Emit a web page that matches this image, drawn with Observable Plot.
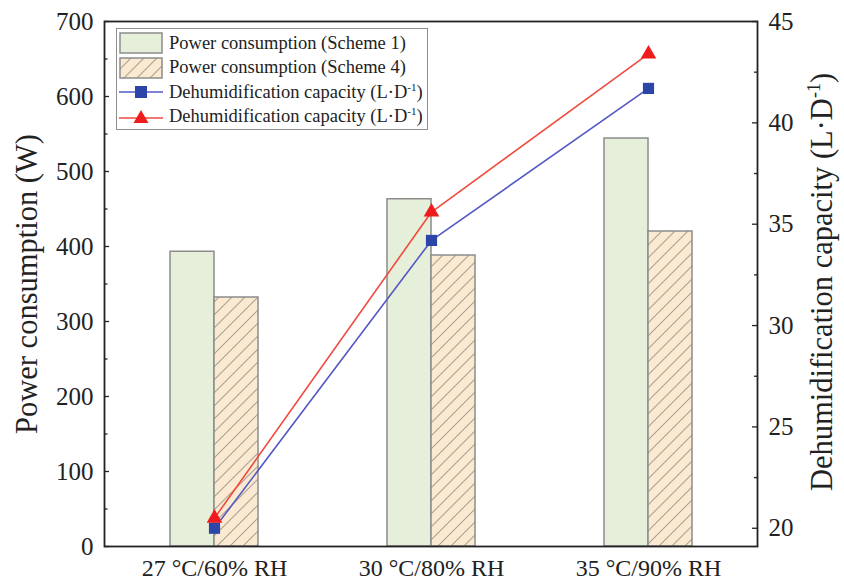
<!DOCTYPE html>
<html><head><meta charset="utf-8">
<script src="https://cdn.jsdelivr.net/npm/d3@7"></script>
<script src="https://cdn.jsdelivr.net/npm/@observablehq/plot@0.6"></script>
<style>
body{margin:0;background:#fff;}
#wrap{position:relative;width:844px;height:585px;font-family:"Liberation Serif","Times New Roman",serif;}
#wrap svg{display:block;}
.legend{position:absolute;left:116px;top:28px;width:312px;height:102px;border:1.5px solid #8f8f8f;box-sizing:border-box;background:#fff;padding-top:2px;}
.row{display:flex;align-items:center;height:24.5px;font-size:18.5px;color:#222;white-space:nowrap;}
.row svg{margin-left:2px;margin-right:6px;flex:none;}
sup{font-size:11px;vertical-align:7px;line-height:0;}
</style></head><body><div id="wrap"></div>
<script>
const categories = ["27 °C/60% RH", "30 °C/80% RH", "35 °C/90% RH"];
const powerScheme1 = [393, 463, 544];
const powerScheme4 = [332, 388, 420];
const dehumScheme1 = [20.0, 34.2, 41.7];
const dehumScheme4 = [20.5, 35.6, 43.4];
const leftDomain = [0, 700];
const leftTicks = [0, 100, 200, 300, 400, 500, 600, 700];
const leftMinor = [50, 150, 250, 350, 450, 550, 650];
const rightDomain = [19.1, 45];
const rightTicks = [20, 25, 30, 35, 40, 45];
const rightMinor = [22.5, 27.5, 32.5, 37.5, 42.5];
const leftTitle = "Power consumption (W)";
const rightTitle = "Dehumidification capacity (L·D⁻¹)";
const legendLabels = ["Power consumption (Scheme 1)", "Power consumption (Scheme 4)", "Dehumidification capacity (L·D<sup>-1</sup>)", "Dehumidification capacity (L·D<sup>-1</sup>)"];

const toLeft = v => leftDomain[0] + (v - rightDomain[0]) / (rightDomain[1] - rightDomain[0]) * (leftDomain[1] - leftDomain[0]);
const toRight = v => rightDomain[0] + (v - leftDomain[0]) / (leftDomain[1] - leftDomain[0]) * (rightDomain[1] - rightDomain[0]);

const bars1 = categories.map((c, i) => ({cat: c, value: powerScheme1[i]}));
const bars4 = categories.map((c, i) => ({cat: c, value: powerScheme4[i]}));
const d1 = categories.map((c, i) => ({cat: c, v: dehumScheme1[i]}));
const d4 = categories.map((c, i) => ({cat: c, v: dehumScheme4[i]}));

const green = "#e6efd9", beige = "#fbe9d1", barStroke = "#8c8c8c";
const blueLine = "#5458c4", blueMark = "#2b46a8", redLine = "#f04a3e", redMark = "#ee1c1c";

const svg = Plot.plot({
  width: 844, height: 585,
  marginLeft: 104, marginRight: 87, marginTop: 21, marginBottom: 39,
  style: {fontFamily: "'Liberation Serif','Times New Roman',serif", color: "#222", background: "#fff"},
  x: {domain: categories, paddingInner: 0.798, paddingOuter: 0.399, label: null},
  y: {domain: leftDomain, label: null},
  marks: [
    Plot.barY(bars1, {x: "cat", y: "value", dx: -22, fill: green, stroke: barStroke, strokeWidth: 1.5}),
    Plot.barY(bars4, {x: "cat", y: "value", dx: 22, fill: "url(#hatch)", stroke: barStroke, strokeWidth: 1.5}),
    Plot.line(d1, {x: "cat", y: d => toLeft(d.v), stroke: blueLine, strokeWidth: 1.6}),
    Plot.line(d4, {x: "cat", y: d => toLeft(d.v), stroke: redLine, strokeWidth: 1.6}),
    Plot.dot(d1, {x: "cat", y: d => toLeft(d.v), symbol: "square", r: 6.3, fill: blueMark}),
    Plot.dot(d4, {x: "cat", y: d => toLeft(d.v), symbol: "triangle", r: 5.8, fill: redMark}),
    Plot.frame({stroke: "#222", strokeWidth: 1.8}),
    Plot.axisY({ticks: leftTicks, tickSize: 5, dx: 5, tickFormat: () => "", label: null, stroke: "#222", strokeWidth: 1.3}),
    Plot.axisY({ticks: leftMinor, tickSize: 3.5, dx: 3.5, tickFormat: () => "", label: null, stroke: "#222", strokeWidth: 1.3}),
    Plot.axisY({ticks: leftTicks, tickSize: 0, tickPadding: 11, fontSize: 25, label: null, fill: "#222"}),
    Plot.axisY({anchor: "right", ticks: rightTicks.map(toLeft), tickSize: 6, dx: -6, tickFormat: () => "", label: null, stroke: "#222", strokeWidth: 1.3}),
    Plot.axisY({anchor: "right", ticks: rightMinor.map(toLeft), tickSize: 4, dx: -4, tickFormat: () => "", label: null, stroke: "#222", strokeWidth: 1.3}),
    Plot.axisY({anchor: "right", ticks: rightTicks.map(toLeft), tickSize: 0, tickPadding: 11, fontSize: 25, label: null, fill: "#222",
      tickFormat: d => String(Math.round(toRight(d)))}),
    Plot.axisX({tickSize: 0, tickPadding: 12, fontSize: 24, label: null, fill: "#222"}),
    Plot.text([leftTitle], {frameAnchor: "left", dx: -77, rotate: -90, textAnchor: "middle", fontSize: 30.5, fill: "#222", text: d => d}),
    Plot.text([rightTitle], {frameAnchor: "right", dx: 65, rotate: -90, dy: -2, textAnchor: "middle", fontSize: 30.5, fill: "#222", text: d => d})
  ]
});

const defs = d3.select(svg).insert("defs", ":first-child");
const s = 13;
const pat = defs.append("pattern").attr("id", "hatch").attr("patternUnits", "userSpaceOnUse").attr("width", s).attr("height", s);
pat.append("rect").attr("width", s).attr("height", s).attr("fill", beige);
pat.append("path").attr("d", `M-3,3L3,-3M0,${s}L${s},0M${s-3},${s+3}L${s+3},${s-3}`).attr("stroke", "#aaa293").attr("stroke-width", 1.1);

d3.select(svg).selectAll("text").each(function() {
  const t = this.textContent;
  if (t === rightTitle) {
    const sel = d3.select(this);
    sel.text(null);
    sel.append("tspan").text("Dehumidification capacity (L·D");
    sel.append("tspan").attr("font-size", 18).attr("dy", -12).text("-1");
    sel.append("tspan").attr("dy", 12).text(")");
  }
});

const wrap = document.getElementById("wrap");
wrap.appendChild(svg);

const swatches = [
  `<svg width="44" height="22"><rect x="1" y="1" width="42" height="20" fill="${green}" stroke="${barStroke}" stroke-width="1.5"/></svg>`,
  `<svg width="44" height="22"><rect x="1" y="1" width="42" height="20" fill="url(#hatch)" stroke="${barStroke}" stroke-width="1.5"/></svg>`,
  `<svg width="44" height="22"><line x1="0" x2="44" y1="11" y2="11" stroke="${blueLine}" stroke-width="1.6"/><rect x="16" y="5" width="12" height="12" fill="${blueMark}"/></svg>`,
  `<svg width="44" height="22"><line x1="0" x2="44" y1="12" y2="12" stroke="${redLine}" stroke-width="1.6"/><path d="M22,4L29.5,17H14.5Z" fill="${redMark}"/></svg>`
];
const leg = document.createElement("div");
leg.className = "legend";
leg.innerHTML = legendLabels.map((l, i) => `<div class="row">${swatches[i]}<span>${l}</span></div>`).join("");
wrap.appendChild(leg);
</script>
</body></html>
